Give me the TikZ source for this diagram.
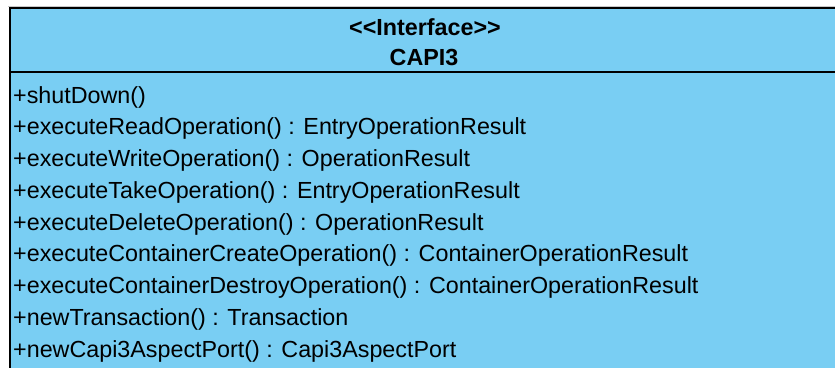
\documentclass[tikz,border=0pt]{standalone}
\usepackage{fontspec}
\setmainfont{Liberation Sans}
\definecolor{classfill}{RGB}{121,206,243}
\definecolor{edgegray}{RGB}{200,200,200}
\begin{document}
\begin{tikzpicture}[x=1pt,y=1pt,
  classbox/.style={draw=black,line width=2pt,fill=classfill},
  titletext/.style={anchor=base,inner sep=0pt,font=\fontsize{23.3}{26}\selectfont\bfseries},
  optext/.style={anchor=base west,inner sep=0pt,font=\fontsize{23.3}{26}\selectfont}]
\useasboundingbox (0,0) rectangle (835,-367);
\clip (0,0) rectangle (835,-367);
% faint rule along the top edge
\draw[edgegray,line width=1pt] (8,-6) -- (835,-6);
% class body and compartment divider
\draw[classbox] (10,-8) rectangle (840,-372);
\draw[line width=2pt] (10,-72) -- (840,-72);
% header
\node[titletext] (stereo) at (425,-35) {<{}<Interface>{}>};
\node[titletext] (cname) at (424,-65.5) {CAPI3};
% operations
\foreach \i/\op in {0/{+shutDown()},
  1/{+executeReadOperation() : EntryOperationResult},
  2/{+executeWriteOperation() : OperationResult},
  3/{+executeTakeOperation() : EntryOperationResult},
  4/{+executeDeleteOperation() : OperationResult},
  5/{+executeContainerCreateOperation() : ContainerOperationResult},
  6/{+executeContainerDestroyOperation() : ContainerOperationResult},
  7/{+newTransaction() : Transaction},
  8/{+newCapi3AspectPort() : Capi3AspectPort}}
  \node[optext] (op\i) at (13,{-103-31.75*\i}) {\op};
\end{tikzpicture}
\end{document}
